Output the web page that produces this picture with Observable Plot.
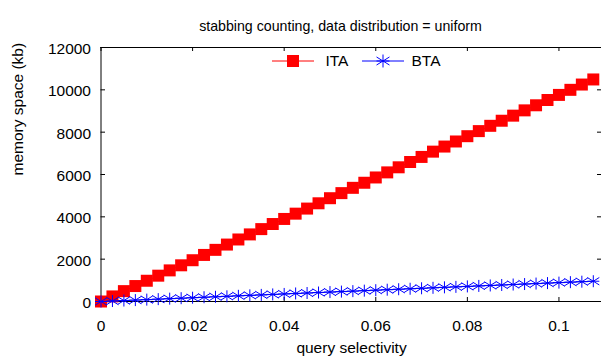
<!DOCTYPE html>
<html><head><meta charset="utf-8">
<script src="https://cdn.jsdelivr.net/npm/d3@7"></script>
<script src="https://cdn.jsdelivr.net/npm/@observablehq/plot@0.6"></script>
<style>body{margin:0;background:#fff} svg{display:block}</style>
</head><body><div id="chart"></div><script>
const selectivity = [0, 0.0025, 0.005, 0.0075, 0.01, 0.0125, 0.015, 0.0175, 0.02, 0.0225, 0.025, 0.0275, 0.03, 0.0325, 0.035, 0.0375, 0.04, 0.0425, 0.045, 0.0475, 0.05, 0.0525, 0.055, 0.0575, 0.06, 0.0625, 0.065, 0.0675, 0.07, 0.0725, 0.075, 0.0775, 0.08, 0.0825, 0.085, 0.0875, 0.09, 0.0925, 0.095, 0.0975, 0.1, 0.1025, 0.105, 0.1075];
const itaMemory = [0, 240, 490, 730, 980, 1220, 1470, 1710, 1950, 2200, 2440, 2690, 2930, 3170, 3420, 3660, 3900, 4150, 4390, 4640, 4880, 5120, 5370, 5610, 5860, 6100, 6340, 6590, 6830, 7080, 7320, 7560, 7810, 8050, 8300, 8540, 8780, 9030, 9270, 9520, 9760, 10000, 10250, 10490];
const btaMemory = [0, 22, 45, 67, 89, 112, 134, 156, 178, 201, 223, 245, 268, 290, 312, 334, 357, 379, 401, 424, 446, 468, 490, 513, 535, 557, 580, 602, 624, 646, 669, 691, 713, 736, 758, 780, 802, 825, 847, 869, 892, 914, 936, 958];
const xTicks = [0, 0.02, 0.04, 0.06, 0.08, 0.1];
const xTickLabels = ["0", "0.02", "0.04", "0.06", "0.08", "0.1"];
const yTicks = [0, 2000, 4000, 6000, 8000, 10000, 12000];
const seriesNames = ["ITA", "BTA"];
const seriesColors = ["#ff0000", "#0000ff"];
const titleText = "stabbing counting, data distribution = uniform";
const xLabel = "query selectivity";
const yLabel = "memory space (kb)";

const ita = selectivity.map((x, i) => ({x, y: itaMemory[i]}));
const bta = selectivity.map((x, i) => ({x, y: btaMemory[i]}));

const asterisk = {
  draw(ctx, size) {
    const r = Math.sqrt(size / Math.PI);
    const h = r * 0.62;
    ctx.moveTo(0, -r); ctx.lineTo(0, r);
    ctx.moveTo(-r, 0); ctx.lineTo(r, 0);
    ctx.moveTo(-r, -h); ctx.lineTo(r, h);
    ctx.moveTo(-r, h); ctx.lineTo(r, -h);
  }
};

const FONT = "Liberation Sans, Arial, Helvetica, sans-serif";
const FS = 15.5;

const chart = Plot.plot({
  width: 601, height: 362,
  marginLeft: 100.5, marginRight: -0.5, marginTop: 47, marginBottom: 61,
  style: {fontFamily: FONT, fontSize: FS + "px", color: "#000", background: "#fff"},
  x: {domain: [0, 0.1094]},
  y: {domain: [0, 12000]},
  marks: [
    Plot.ruleX([0], {stroke: "#000"}),
    Plot.ruleY([0, 12000], {stroke: "#000"}),
    Plot.tickX(xTicks, {x: d => d, insetTop: 250, stroke: "#000"}),
    Plot.tickX(xTicks, {x: d => d, insetBottom: 250, stroke: "#000"}),
    Plot.tickY(yTicks, {y: d => d, insetRight: 496.5, stroke: "#000"}),
    Plot.tickY(yTicks, {y: d => d, insetLeft: 496.5, stroke: "#000"}),
    Plot.axisX(xTicks, {tickSize: 0, tickPadding: 18, label: null, fontSize: FS,
      tickFormat: d => xTickLabels[xTicks.indexOf(d)]}),
    Plot.axisY(yTicks, {tickSize: 0, tickPadding: 10, label: null, fontSize: FS, dy: 1.5,
      tickFormat: d => String(d)}),
    Plot.line(ita, {x: "x", y: "y", stroke: seriesColors[0], strokeWidth: 1}),
    Plot.dot(ita, {x: "x", y: "y", symbol: "square", r: 6.77, fill: seriesColors[0], stroke: "none"}),
    Plot.line(bta, {x: "x", y: "y", stroke: seriesColors[1], strokeWidth: 1}),
    Plot.dot(bta, {x: "x", y: "y", symbol: asterisk, r: 6, stroke: seriesColors[1], fill: "none", strokeWidth: 1}),
    Plot.text([titleText], {frameAnchor: "top", dy: -27, dx: -11, fontSize: 14.2}),
    Plot.text([yLabel], {frameAnchor: "left", rotate: -90, dx: -82.5, dy: 1, fontSize: FS}),
    Plot.text([xLabel], {frameAnchor: "bottom", dy: 51, fontSize: FS})
  ]
});
document.getElementById("chart").appendChild(chart);

// legend
const svg = d3.select(chart);
const lg = svg.append("g").attr("font-family", FONT).attr("font-size", FS).attr("text-anchor", "start");
const legendItems = [
  {x0: 272, x1: 314, cx: 293, tx: 325.5, sym: "square"},
  {x0: 362, x1: 404, cx: 383, tx: 411.5, sym: "asterisk"}
];
const ly = 61;
legendItems.forEach((it, i) => {
  lg.append("line").attr("x1", it.x0).attr("x2", it.x1).attr("y1", ly).attr("y2", ly)
    .attr("stroke", seriesColors[i]).attr("stroke-width", 1);
  if (it.sym === "square") {
    lg.append("path").attr("transform", `translate(${it.cx},${ly})`)
      .attr("d", d3.symbol(d3.symbolSquare, 144)()).attr("fill", seriesColors[i]);
  } else {
    lg.append("path").attr("transform", `translate(${it.cx},${ly})`)
      .attr("d", d3.symbol(asterisk, Math.PI * 42)()).attr("fill", "none")
      .attr("stroke", seriesColors[i]);
  }
  lg.append("text").attr("x", it.tx).attr("y", ly).attr("dy", "0.35em")
    .attr("text-anchor", "start").text(seriesNames[i]);
});
</script></body></html>
